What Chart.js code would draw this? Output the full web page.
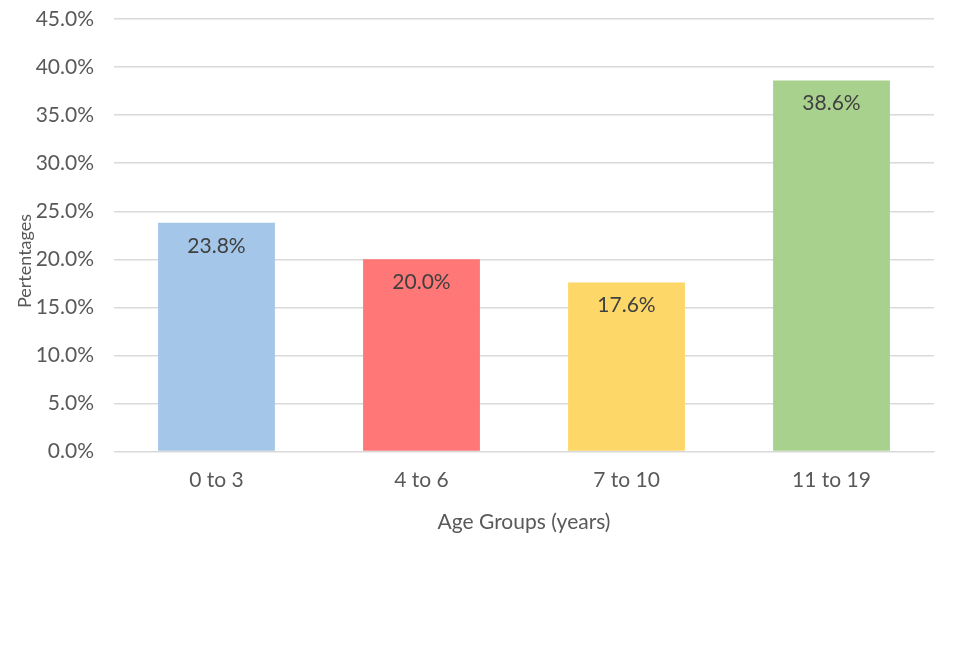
<!DOCTYPE html>
<html>
<head>
<meta charset="utf-8">
<script src="https://cdn.jsdelivr.net/npm/chart.js@4"></script>
<style>
  html, body { margin: 0; padding: 0; background: #fff; }
  #wrap { width: 955px; height: 666px; }
</style>
</head>
<body>
<div id="wrap"><canvas id="chart" width="955" height="666"></canvas></div>
<script>
// data
let ageGroups = ["0 to 3", "4 to 6", "7 to 10", "11 to 19"];
let percentages = [23.8, 20.0, 17.6, 38.6];
let barColors = ["#a4c6e9", "#ff7777", "#fdd767", "#a9d18e"];

const FONT = "Lato, 'Open Sans', sans-serif";

// value labels just inside the top of each bar, plus the y title
// (drawn by hand since it sits a bit below the middle of the axis)
const extraText = {
  id: "extraText",
  afterDatasetsDraw(chart) {
    const ctx = chart.ctx;
    const meta = chart.getDatasetMeta(0);
    ctx.save();
    ctx.font = "21px " + FONT;
    ctx.fillStyle = "#404040";
    ctx.textAlign = "center";
    ctx.textBaseline = "middle";
    meta.data.forEach((bar, i) => {
      ctx.fillText(percentages[i].toFixed(1) + "%", bar.x, bar.y + 23);
    });
    ctx.translate(25, 261);
    ctx.rotate(-Math.PI / 2);
    ctx.font = "18px " + FONT;
    ctx.fillStyle = "#595959";
    ctx.fillText("Pertentages", 0, 0);
    ctx.restore();
  },
};

const chart = new Chart(document.getElementById("chart"), {
  type: "bar",
  data: {
    labels: ageGroups,
    datasets: [
      {
        data: percentages,
        backgroundColor: barColors,
        borderWidth: 0,
        categoryPercentage: 1,
        barPercentage: 0.57,
      },
    ],
  },
  options: {
    responsive: false,
    animation: false,
    layout: {
      padding: { left: 0, right: 21, top: 19, bottom: 131 },
    },
    plugins: {
      legend: { display: false },
      tooltip: { enabled: false },
    },
    scales: {
      x: {
        grid: { display: false },
        border: { display: true, color: "#d9d9d9", width: 1 },
        ticks: {
          color: "#595959",
          font: { family: FONT, size: 21 },
          padding: 8,
        },
        title: {
          display: true,
          text: "Age Groups (years)",
          color: "#595959",
          font: { family: FONT, size: 21 },
          padding: { top: 9, bottom: 0 },
        },
      },
      y: {
        min: 0,
        max: 45,
        grid: { color: "#d9d9d9", lineWidth: 1.5, drawTicks: false },
        border: { display: false },
        afterFit: (scale) => {
          scale.width = 114;
          scale.paddingTop = 0;
          scale.paddingBottom = 0;
        },
        ticks: {
          stepSize: 5,
          color: "#595959",
          font: { family: FONT, size: 21 },
          padding: 20,
          callback: (v) => v.toFixed(1) + "%",
        },
      },
    },
  },
  plugins: [extraText],
});
</script>
</body>
</html>
